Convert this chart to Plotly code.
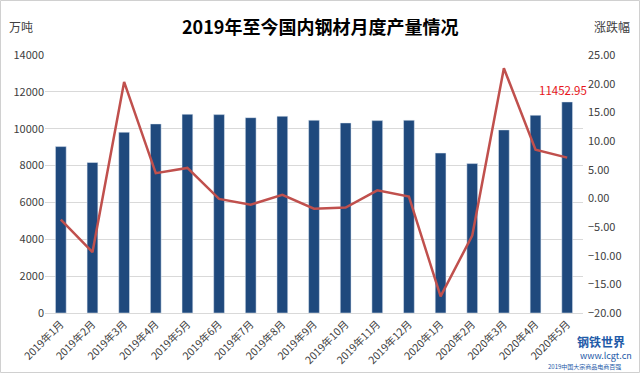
import plotly.graph_objects as go

categories = ["2019年1月", "2019年2月", "2019年3月", "2019年4月", "2019年5月", "2019年6月",
              "2019年7月", "2019年8月", "2019年9月", "2019年10月", "2019年11月", "2019年12月",
              "2020年1月", "2020年2月", "2020年3月", "2020年4月", "2020年5月"]
output_wt = [9030, 8165, 9810, 10260, 10785, 10765, 10600, 10677, 10460, 10314, 10440, 10460,
             8680, 8108, 9935, 10730, 11452.95]
change_pct = [-3.7, -9.4, 20.3, 4.4, 5.3, -0.1, -1.1, 0.6, -1.8, -1.6, 1.4, 0.3,
              -17.1, -6.5, 22.7, 8.5, 7.1]
left_ticks = [0, 2000, 4000, 6000, 8000, 10000, 12000, 14000]
right_ticks = [-20, -15, -10, -5, 0, 5, 10, 15, 20, 25]

FONT = "Noto Sans CJK SC"
W, H = 640, 373
ML, MR, MT, MB = 45, 57, 55, 60
PW, PH = W - ML - MR, H - MT - MB

def px(x):
    return (x - ML) / PW

def py(y):
    return (H - MB - y) / PH

fig = go.Figure()
fig.add_trace(go.Bar(x=categories, y=output_wt, marker_color="#1F497D", name="产量",
                     yaxis="y"))
fig.add_trace(go.Scatter(x=categories, y=change_pct, mode="lines", name="涨跌幅",
                         line=dict(color="#C0504D", width=2.5), yaxis="y2"))

fig.add_annotation(x=categories[-1], y=output_wt[-1], xref="x", yref="y",
                   text="11452.95", showarrow=False, yshift=12, xshift=-4,
                   font=dict(family=FONT, size=11.5, color="#E8141B"))

def txt(x, y, text, size, color, xanchor="center"):
    fig.add_annotation(x=px(x), y=py(y), xref="paper", yref="paper", text=text,
                       showarrow=False, xanchor=xanchor, yanchor="middle",
                       font=dict(family=FONT, size=size, color=color))

txt(320, 26, "<b>2019年至今国内钢材月度产量情况</b>", 18, "#000000")
txt(21, 26, "万吨", 12, "#404040")
txt(612, 26, "涨跌幅", 12, "#404040")

# watermark
txt(601, 341, "<b>钢铁世界</b>", 12, "#1E5AA8")
txt(606, 355, "www.lcgt.cn", 9, "#1E5AA8")
txt(584, 366, "2019中国大宗商品电商百强", 6, "#1E5AA8")

fig.add_shape(type="rect", xref="paper", yref="paper", x0=px(0.5), x1=px(W - 0.5),
              y0=py(H - 0.5), y1=py(0.5), line=dict(color="#D0D0D0", width=1), layer="below")

fig.update_layout(
    width=W, height=H,
    margin=dict(l=ML, r=MR, t=MT, b=MB),
    plot_bgcolor="white", paper_bgcolor="white",
    showlegend=False,
    bargap=0.66,
    font=dict(family=FONT, size=11, color="#404040"),
    xaxis=dict(tickangle=-45, tickfont=dict(size=10.5, color="#404040"), showgrid=False,
               showline=True, linecolor="#D9D9D9", ticks="", automargin=False,
               range=[-0.5, len(categories) - 0.5]),
    yaxis=dict(range=[0, 14000], tickvals=left_ticks, tickformat="d", showgrid=True,
               gridcolor="#D9D9D9", zeroline=False, ticks="", automargin=False,
               tickfont=dict(size=11, color="#404040")),
    yaxis2=dict(range=[-20, 25], tickvals=right_ticks, overlaying="y", side="right",
                showgrid=False, zeroline=False, ticksuffix="%", tickformat=".2f",
                automargin=False, ticklabelstandoff=4,
                tickfont=dict(size=11, color="#404040")),
)

fig.write_html("out.html", config={"displayModeBar": False},
               post_script="document.body.style.margin='0';document.body.style.overflow='hidden';")
